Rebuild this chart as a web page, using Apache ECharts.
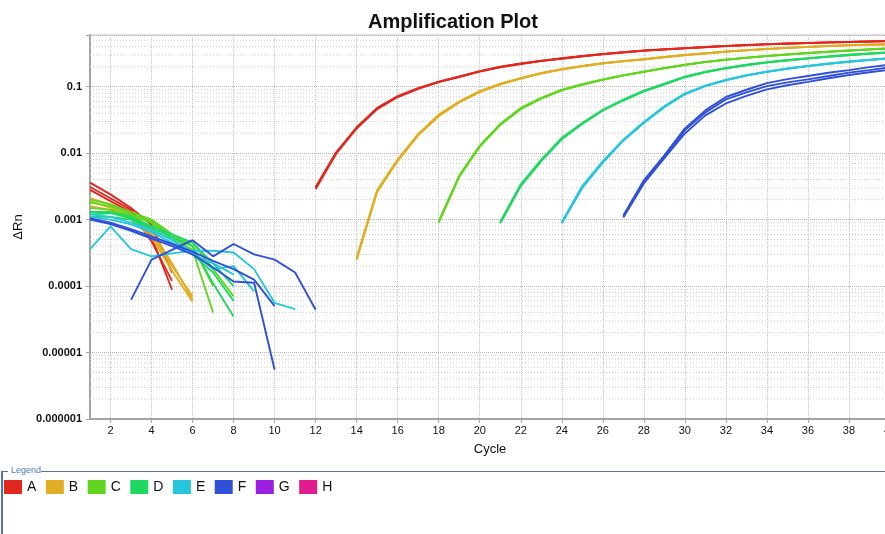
<!DOCTYPE html>
<html><head><meta charset="utf-8">
<script src="https://cdn.jsdelivr.net/npm/echarts@6/dist/echarts.min.js"></script>
<style>html,body{margin:0;padding:0;background:#fff;}#chart{width:885px;height:534px;}</style>
</head><body><div id="chart"></div>
<script>
const _ = null;
const cycles = ['1','2','3','4','5','6','7','8','9','10','11','12','13','14','15','16','17','18','19','20','21','22','23','24','25','26','27','28','29','30','31','32','33','34','35','36','37','38','39','40'];
const yTickLabels = ['0.000001','0.00001','0.0001','0.001','0.01','0.1'];
const groupNames = ['A','B','C','D','E','F','G','H'];
const groupColors = ['#e2281e','#e0ae22','#62d61e','#1fd862','#26c6dc','#3050d8','#9a1fe0','#e01c8c'];

const A1 = [0.0036,0.0024,0.0015,0.00084,0.00016,_,_,_,_,_,_,0.0031,0.0103,0.0245,0.048,0.072,0.095,0.119,0.143,0.172,0.2,0.224,0.247,0.268,0.29,0.311,0.331,0.35,0.366,0.381,0.396,0.411,0.424,0.437,0.447,0.456,0.465,0.473,0.481,0.49];
const A2 = [0.0031,0.0021,0.0014,0.00055,0.000088,_,_,_,_,_,_,0.0029,0.0098,0.0235,0.046,0.07,0.093,0.117,0.14,0.169,0.196,0.22,0.243,0.264,0.287,0.308,0.328,0.347,0.363,0.378,0.393,0.408,0.421,0.434,0.444,0.453,0.462,0.47,0.478,0.486];
const A3 = [0.0028,0.0019,0.0013,0.00047,0.00012,_,_,_,_,_,_,0.003,0.01,0.024,0.047,0.071,0.094,0.118,0.141,0.17,0.198,0.222,0.245,0.266,0.288,0.309,0.33,0.349,0.365,0.38,0.395,0.41,0.423,0.436,0.446,0.455,0.464,0.472,0.48,0.488];

const B1 = [0.0021,0.0017,0.0012,0.00068,0.00022,0.000062,_,_,_,_,_,_,_,0.00027,0.0028,0.008,0.0195,0.038,0.06,0.086,0.111,0.135,0.161,0.184,0.206,0.226,0.244,0.26,0.281,0.301,0.319,0.338,0.355,0.371,0.385,0.398,0.411,0.422,0.43,0.437];
const B2 = [0.0019,0.0015,0.0011,0.0006,0.0002,0.00007,_,_,_,_,_,_,_,0.00025,0.0026,0.0076,0.0185,0.036,0.058,0.083,0.108,0.132,0.158,0.181,0.203,0.223,0.241,0.257,0.278,0.298,0.316,0.335,0.352,0.368,0.382,0.395,0.408,0.419,0.427,0.434];
const B3 = [0.0016,0.0014,0.001,0.00055,0.00017,0.000058,_,_,_,_,_,_,_,0.00026,0.0027,0.0078,0.019,0.037,0.059,0.085,0.11,0.134,0.16,0.183,0.205,0.225,0.243,0.259,0.28,0.3,0.318,0.337,0.354,0.37,0.384,0.397,0.41,0.421,0.429,0.436];

const C1 = [0.002,0.0017,0.0013,0.001,0.0006,0.0004,0.0001,_,_,_,_,_,_,_,_,_,_,0.00094,0.0046,0.013,0.0275,0.048,0.068,0.09,0.109,0.129,0.149,0.169,0.191,0.214,0.236,0.256,0.274,0.291,0.307,0.322,0.337,0.351,0.365,0.379];
const C2 = [0.0018,0.0016,0.0012,0.00095,0.00055,0.00035,0.00004,_,_,_,_,_,_,_,_,_,_,0.0009,0.0044,0.0125,0.0265,0.046,0.066,0.088,0.107,0.127,0.147,0.167,0.189,0.212,0.234,0.254,0.272,0.289,0.305,0.32,0.335,0.349,0.363,0.377];
const C3 = [0.0015,0.0014,0.00115,0.0009,0.0005,0.00045,0.00018,0.00007,_,_,_,_,_,_,_,_,_,0.00092,0.0045,0.0127,0.027,0.047,0.067,0.089,0.108,0.128,0.148,0.168,0.19,0.213,0.235,0.255,0.273,0.29,0.306,0.321,0.336,0.35,0.364,0.378];

const D1 = [0.0013,0.0013,0.0011,0.0008,0.0006,0.00045,0.00022,0.0001,_,_,_,_,_,_,_,_,_,_,_,_,0.00092,0.0034,0.008,0.017,0.0285,0.045,0.064,0.087,0.111,0.142,0.168,0.192,0.214,0.234,0.252,0.269,0.286,0.302,0.317,0.33];
const D2 = [0.0012,0.00125,0.00105,0.00075,0.00055,0.0004,0.00011,0.000035,_,_,_,_,_,_,_,_,_,_,_,_,0.00088,0.0032,0.0076,0.0162,0.0275,0.044,0.062,0.085,0.108,0.139,0.165,0.189,0.21,0.23,0.248,0.265,0.282,0.298,0.313,0.326];
const D3 = [0.0011,0.0011,0.001,0.0007,0.0005,0.0003,0.00016,0.00006,_,_,_,_,_,_,_,_,_,_,_,_,0.0009,0.0033,0.0078,0.0166,0.028,0.0445,0.063,0.086,0.11,0.14,0.166,0.19,0.212,0.232,0.25,0.267,0.284,0.3,0.315,0.328];

const E1 = [0.00036,0.00079,0.00036,0.00028,0.00031,0.00034,0.00034,0.00032,0.00018,0.000056,0.000045,_,_,_,_,_,_,_,_,_,_,_,_,0.00092,0.0032,0.0076,0.016,0.0295,0.051,0.079,0.104,0.127,0.149,0.169,0.188,0.206,0.223,0.239,0.254,0.269];
const E2 = [0.0012,0.0011,0.0009,0.0007,0.0005,0.00033,0.00018,0.0002,0.000083,_,_,_,_,_,_,_,_,_,_,_,_,_,_,0.00088,0.003,0.0072,0.0154,0.0285,0.049,0.077,0.102,0.125,0.147,0.167,0.186,0.204,0.221,0.237,0.252,0.267];
const E3 = [0.0011,0.001,0.00085,0.00065,0.00045,0.0003,0.00022,0.00015,_,_,_,_,_,_,_,_,_,_,_,_,_,_,_,0.0009,0.0031,0.0074,0.0157,0.029,0.05,0.078,0.103,0.126,0.148,0.168,0.187,0.205,0.222,0.238,0.253,0.268];

const F1 = [0.00105,0.0009,0.00072,0.00056,0.00043,0.00033,0.00024,0.00018,0.000125,0.00005,_,_,_,_,_,_,_,_,_,_,_,_,_,_,_,_,0.00115,0.0039,0.0093,0.0236,0.044,0.07,0.09,0.113,0.13,0.145,0.162,0.178,0.197,0.215];
const F2 = [0.001,0.00086,0.00068,0.00052,0.0004,0.0003,0.00019,0.000117,0.000112,0.0000055,_,_,_,_,_,_,_,_,_,_,_,_,_,_,_,_,0.0011,0.0037,0.0088,0.0222,0.041,0.0645,0.082,0.102,0.116,0.129,0.145,0.163,0.178,0.195];
const F3 = [_,_,0.000062,0.00025,0.00035,0.00049,0.00028,0.00043,0.0003,0.00025,0.00016,0.000044,_,_,_,_,_,_,_,_,_,_,_,_,_,_,0.00108,0.0035,0.0084,0.0198,0.037,0.056,0.073,0.091,0.105,0.118,0.134,0.15,0.165,0.18];

const G1 = [];
const H1 = [];

const groups = {A:[A1,A2,A3],B:[B1,B2,B3],C:[C1,C2,C3],D:[D1,D2,D3],E:[E1,E2,E3],F:[F1,F2,F3],G:[G1],H:[H1]};

// log-spaced minor grid values (2..9 within each decade)
const minorVals = [];
for (let e = -6; e <= -1; e++) {
  for (let m = 2; m <= 9; m++) {
    const v = m * Math.pow(10, e);
    if (v < 0.6) minorVals.push([0, v]);
  }
}

const evenCycle = (idx) => idx % 2 === 1;

const series = [{
  name: 'minorGrid', type: 'custom', data: minorVals, silent: true, z: 1,
  clip: false,
  renderItem: (params, api) => {
    const y = api.coord([0, api.value(1)])[1];
    const cs = params.coordSys;
    return {
      type: 'line',
      shape: {x1: cs.x, y1: y, x2: cs.x + cs.width, y2: y},
      style: {stroke: '#c9c9c9', lineWidth: 1, lineDash: [1, 2]},
      silent: true
    };
  }
}];
groupNames.forEach((g, gi) => {
  groups[g].forEach(arr => {
    series.push({
      name: g, type: 'line', data: arr, symbol: 'none', showSymbol: false,
      connectNulls: false, z: 3,
      itemStyle: {color: groupColors[gi]},
      lineStyle: {color: groupColors[gi], width: 1.9},
      emphasis: {disabled: true}
    });
  });
});

const chart = echarts.init(document.getElementById('chart'));
chart.setOption({
  animation: false,
  backgroundColor: '#ffffff',
  textStyle: {fontFamily: 'Liberation Sans, Arial, sans-serif'},
  title: {
    text: 'Amplification Plot', left: 363, top: 7,
    textStyle: {fontSize: 20, fontWeight: 'bold', color: '#111', fontFamily: 'Liberation Sans, Arial, sans-serif'}
  },
  grid: {left: 90, right: -5, top: 35, bottom: 115, show: true, borderColor: '#c4c4c4', borderWidth: 1, containLabel: false, outerBoundsMode: 'none'},
  legend: {
    data: groupNames, left: 4, top: 480, padding: 0, itemWidth: 18, itemHeight: 14, itemGap: 9.5,
    icon: 'rect', selectedMode: false,
    textStyle: {fontSize: 14, color: '#111', padding: [0,0,0,0]}
  },
  xAxis: {
    type: 'category', data: cycles, boundaryGap: false,
    name: 'Cycle', nameLocation: 'middle', nameGap: 24,
    nameTextStyle: {fontSize: 13, color: '#111'},
    axisLine: {lineStyle: {color: '#a4a4a4', width: 2}},
    axisTick: {show: true, interval: evenCycle, length: 4, lineStyle: {color: '#a4a4a4'}},
    axisLabel: {interval: evenCycle, fontSize: 11, color: '#111', margin: 6},
    splitLine: {show: true, interval: evenCycle, lineStyle: {type: 'dotted', color: '#c4c4c4'}}
  },
  yAxis: {
    type: 'log', logBase: 10, min: 1e-6, max: 0.6,
    name: 'ΔRn', nameLocation: 'middle', nameGap: 58,
    nameTextStyle: {fontSize: 13, color: '#111'},
    axisLine: {show: true, lineStyle: {color: '#a4a4a4', width: 2}},
    axisTick: {show: true, length: 4, lineStyle: {color: '#a4a4a4'}},
    axisLabel: {
      fontSize: 11, fontWeight: 'bold', color: '#111', margin: 8,
      formatter: (v) => {
        const e = Math.round(Math.log10(v));
        if (Math.abs(Math.log10(v) - e) > 1e-6) return '';
        return yTickLabels[e + 6] || '';
      }
    },
    splitLine: {show: true, lineStyle: {type: 'dotted', color: '#b4b4b4'}}
  },
  graphic: [
    {type: 'line', shape: {x1: 2, y1: 471.5, x2: 8, y2: 471.5}, style: {stroke: '#56749a', lineWidth: 1}},
    {type: 'line', shape: {x1: 41, y1: 471.5, x2: 885, y2: 471.5}, style: {stroke: '#56749a', lineWidth: 1}},
    {type: 'rect', shape: {x: 1, y: 471, width: 2, height: 63}, style: {fill: '#56749a'}},
    {type: 'text', left: 11, top: 466, style: {text: 'Legend', fontSize: 9, fill: '#4a78c2', fontFamily: 'Liberation Sans, Arial, sans-serif'}}
  ],
  series: series
});
</script>
</body></html>
